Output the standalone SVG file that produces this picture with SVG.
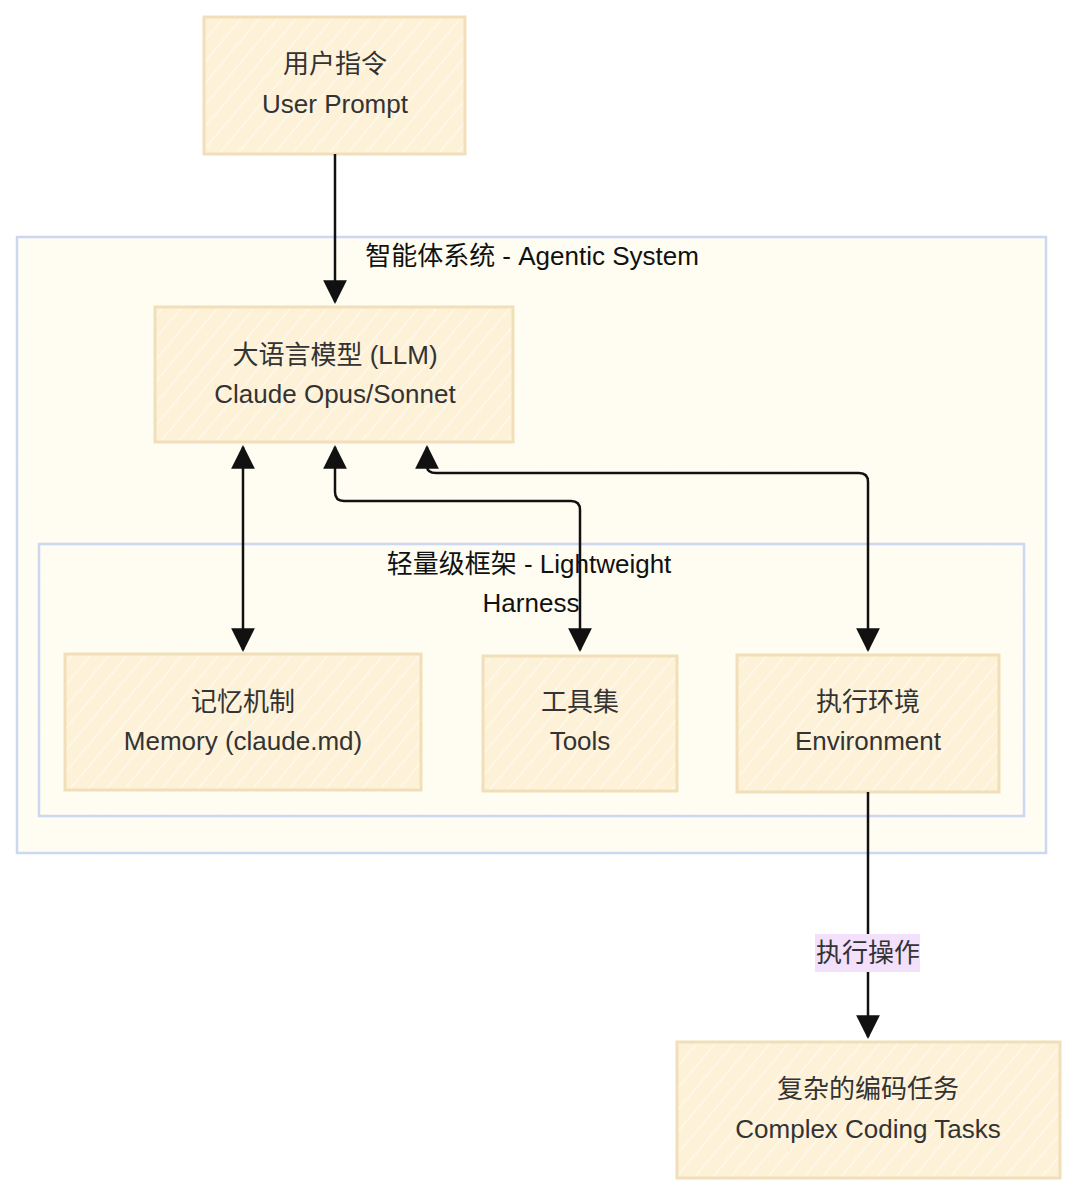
<svg xmlns="http://www.w3.org/2000/svg" width="1080" height="1200" viewBox="0 0 1080 1200">
<defs>
<pattern id="hatchNode" patternUnits="userSpaceOnUse" width="14" height="14" patternTransform="rotate(40)">
<rect width="14" height="14" fill="#fdf1d8"/>
<line x1="0" y1="0" x2="0" y2="14" stroke="#fffaf0" stroke-width="2.5"/>
</pattern>
<pattern id="hatchCluster" patternUnits="userSpaceOnUse" width="14" height="14" patternTransform="rotate(40)">
<rect width="14" height="14" fill="#fffdf1"/>
<line x1="0" y1="0" x2="0" y2="14" stroke="#fefef8" stroke-width="2.5"/>
</pattern>
<marker id="arrowEnd" viewBox="0 0 12 12" refX="11" refY="6" markerWidth="9.5" markerHeight="9.5" markerUnits="strokeWidth" orient="auto">
<path d="M0,0 L12,6 L0,12 Z" fill="#111"/>
</marker>
<marker id="arrowStart" viewBox="0 0 12 12" refX="1" refY="6" markerWidth="9.5" markerHeight="9.5" markerUnits="strokeWidth" orient="auto">
<path d="M12,0 L0,6 L12,12 Z" fill="#111"/>
</marker>
</defs>
<style>
.node rect{fill:url(#hatchNode);stroke:#f0dfb8;stroke-width:3}
.cluster rect{fill:url(#hatchCluster);stroke:#ccd7f2;stroke-width:2.5}
text{font-family:"Liberation Sans","Noto Sans CJK SC",sans-serif;font-size:26px;fill:#333;text-anchor:middle}
.cl{fill:#111}
.edge{fill:none;stroke:#111;stroke-width:2.5}
</style>
<rect width="1080" height="1200" fill="#ffffff"/>
<g id="cluster-agentic" class="cluster">
<rect x="17" y="237" width="1029" height="616"/>
<text class="cl" x="532" y="265">智能体系统 - Agentic System</text>
</g>
<g id="cluster-harness" class="cluster">
<rect x="39" y="544" width="985" height="272"/>
<text class="cl" x="529" y="573">轻量级框架 - Lightweight</text>
<text class="cl" x="531" y="612">Harness</text>
</g>
<g id="node-user" class="node">
<rect x="204" y="17" width="261" height="137"/>
<text x="335" y="73">用户指令</text>
<text x="335" y="113">User Prompt</text>
</g>
<g id="node-llm" class="node">
<rect x="155" y="307" width="358" height="135"/>
<text x="335" y="364">大语言模型 (LLM)</text>
<text x="335" y="403">Claude Opus/Sonnet</text>
</g>
<g id="node-memory" class="node">
<rect x="65" y="654" width="356" height="136"/>
<text x="243" y="711">记忆机制</text>
<text x="243" y="750">Memory (claude.md)</text>
</g>
<g id="node-tools" class="node">
<rect x="483" y="656" width="194" height="135"/>
<text x="580" y="711">工具集</text>
<text x="580" y="750">Tools</text>
</g>
<g id="node-env" class="node">
<rect x="737" y="655" width="262" height="137"/>
<text x="868" y="711">执行环境</text>
<text x="868" y="750">Environment</text>
</g>
<g id="node-tasks" class="node">
<rect x="677" y="1042" width="383" height="136"/>
<text x="868" y="1098">复杂的编码任务</text>
<text x="868" y="1138">Complex Coding Tasks</text>
</g>
<g id="connectors">
<path class="edge" d="M335,154 L335,302" marker-end="url(#arrowEnd)"/>
<path class="edge" d="M243,447 L243,650" marker-start="url(#arrowStart)" marker-end="url(#arrowEnd)"/>
<path class="edge" d="M335,447 L335,492 Q335,501 344,501 L571,501 Q580,501 580,510 L580,650" marker-start="url(#arrowStart)" marker-end="url(#arrowEnd)"/>
<path class="edge" d="M427,447 L427,466 Q427,473 436,473 L859,473 Q868,473 868,482 L868,650" marker-start="url(#arrowStart)" marker-end="url(#arrowEnd)"/>
<path class="edge" d="M868,792 L868,1037" marker-end="url(#arrowEnd)"/>
<rect x="815" y="934" width="105" height="38" fill="#f3e0fb"/>
<text x="868" y="962">执行操作</text>
</g>
</svg>
